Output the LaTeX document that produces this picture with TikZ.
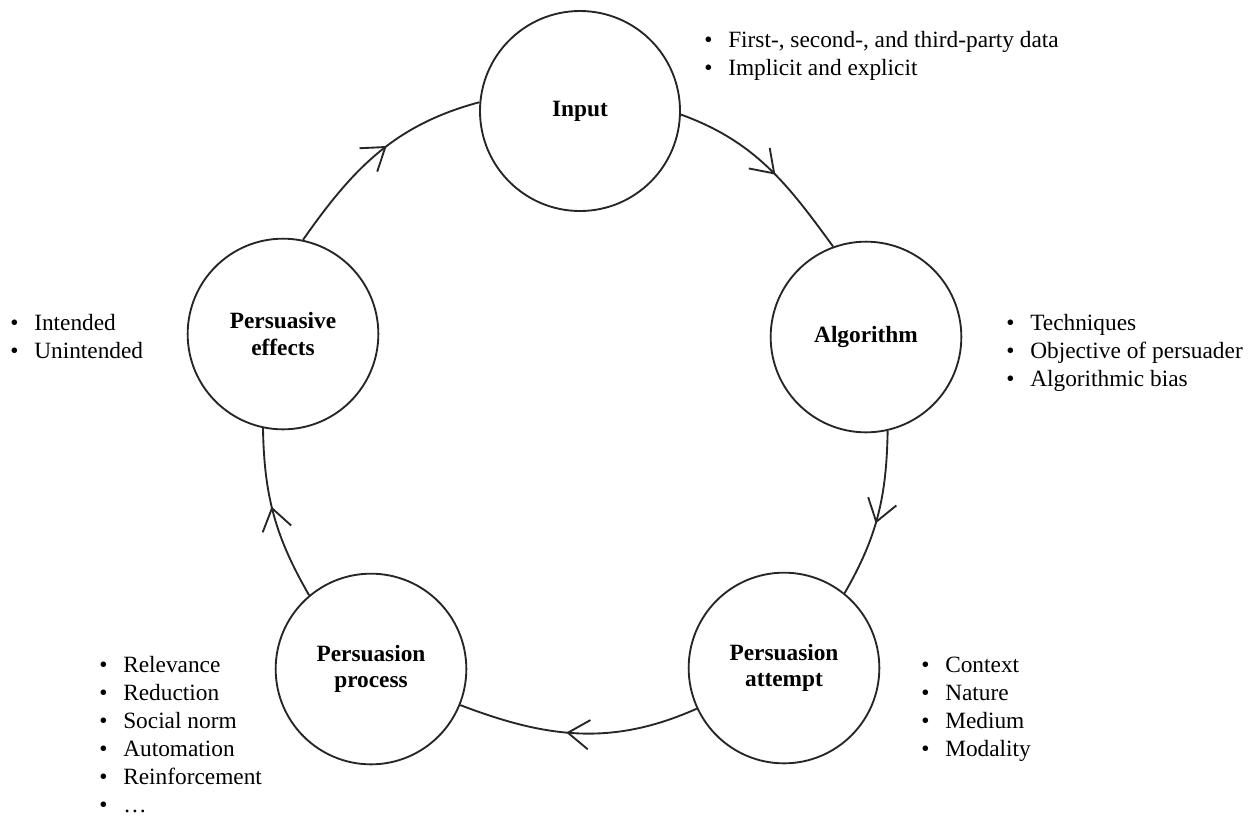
\documentclass[tikz,border=0pt]{standalone}
\usepackage{fontspec}
\setmainfont{Liberation Serif}
\usetikzlibrary{arrows.meta,decorations.markings}
\newcommand{\bul}{\makebox[18pt][l]{\textbullet}}
\begin{document}
\begin{tikzpicture}[x=0.75pt,y=0.75pt,
    stage/.style={draw=black!85,line width=1.4pt,circle,minimum size=143pt,
      inner sep=0pt,align=center,font=\fontsize{17.5}{20}\selectfont\bfseries},
    notes/.style={anchor=north west,inner sep=0pt,align=left,
      font=\fontsize{17.5}{21}\selectfont},
    flow/.style={draw=black!85,line width=1.4pt,postaction={decorate},
      decoration={markings,mark=at position 0.55 with
        {\arrow{Straight Barb[length=16pt,width=22pt,line width=1.4pt]}}}}]
  \useasboundingbox (0,0) rectangle (1257,-819);

  % stages of the cycle
  \node[stage,minimum size=150pt] (input) at (580,-111) {Input};
  \node[stage] (algorithm) at (866,-337) {Algorithm};
  \node[stage] (attempt) at (784,-668) {Persuasion\\attempt};
  \node[stage] (process) at (371,-669) {Persuasion\\process};
  \node[stage] (effects) at (283,-334) {Persuasive\\effects};

  % arcs between the stages
  \begin{scope}
    \draw[flow] (input.-2) to[out=-20,in=126] (algorithm.110);
    \draw[flow] (algorithm.-77) to[out=-91,in=60] (attempt.51);
    \draw[flow] (attempt.205) to[out=-156,in=-21] (process.-22);
    \draw[flow] (process.130) to[out=120,in=-89] (effects.-102);
    \draw[flow] (effects.78) to[out=55,in=195] (input.175);
  \end{scope}

  % notes beside each stage
  \node[notes] (inputnotes) at (704,-31)
    {\bul First-, second-, and third-party data\\
     \bul Implicit and explicit};
  \node[notes] (algorithmnotes) at (1006,-314)
    {\bul Techniques\\
     \bul Objective of persuader\\
     \bul Algorithmic bias};
  \node[notes] (attemptnotes) at (921,-657)
    {\bul Context\\
     \bul Nature\\
     \bul Medium\\
     \bul Modality};
  \node[notes] (processnotes) at (99,-656)
    {\bul Relevance\\
     \bul Reduction\\
     \bul Social norm\\
     \bul Automation\\
     \bul Reinforcement\\
     \bul \dots};
  \node[notes] (effectsnotes) at (10,-314)
    {\bul Intended\\
     \bul Unintended};
\end{tikzpicture}
\end{document}
